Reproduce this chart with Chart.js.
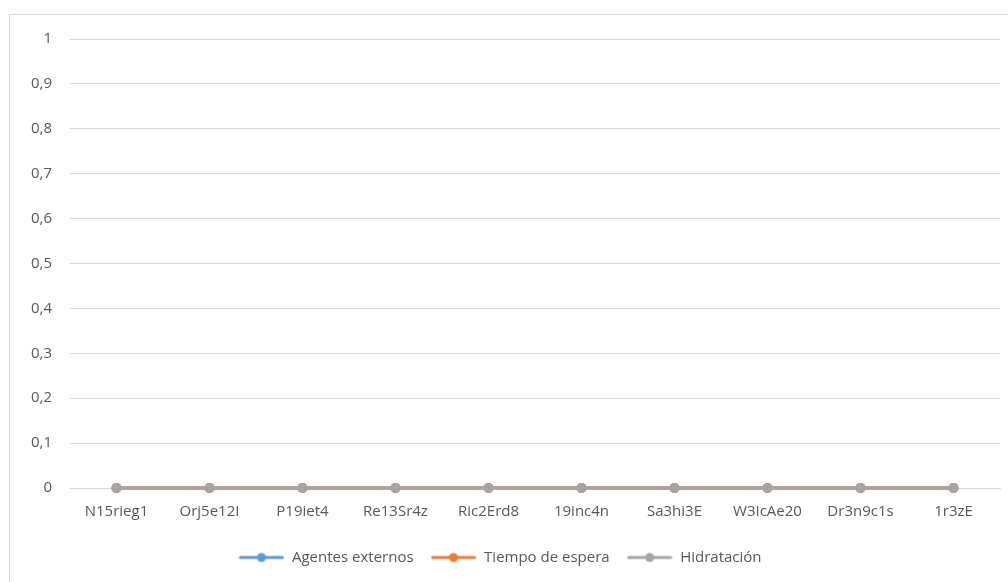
<!DOCTYPE html>
<html>
<head>
<meta charset="utf-8">
<script src="https://cdn.jsdelivr.net/npm/chart.js@4/dist/chart.umd.min.js"></script>
<style>
    html, body { margin: 0; padding: 0; background: #ffffff; overflow: hidden; }
    #frame { position: absolute; left: 9px; top: 14px; width: 1100px; height: 700px; border: 1px solid #d9d9d9; }
    #wrap { position: absolute; left: 0; top: 0; width: 1008px; height: 582px; }
</style>
</head>
<body>
<div id="frame"></div>
<div id="wrap"><canvas id="lineChart" width="1008" height="582"></canvas></div>
<script>
    // categories and series (all values read as 0)
    const categories = ['N15rieg1', 'Orj5e12I', 'P19iet4', 'Re13Sr4z', 'Ric2Erd8', '19inc4n', 'Sa3hi3E', 'W3IcAe20', 'Dr3n9c1s', '1r3zE'];
    const agentesExternos = [0, 0, 0, 0, 0, 0, 0, 0, 0, 0];
    const tiempoDeEspera = [0, 0, 0, 0, 0, 0, 0, 0, 0, 0];
    const hidratacion = [0, 0, 0, 0, 0, 0, 0, 0, 0, 0];
    const yTickLabels = ['0', '0,1', '0,2', '0,3', '0,4', '0,5', '0,6', '0,7', '0,8', '0,9', '1'];

    const fontFamily = '"Open Sans", "Liberation Sans", sans-serif';

    // small line + dot image used as legend symbol
    function legendSymbol(color) {
        const c = document.createElement('canvas');
        c.width = 46;
        c.height = 12;
        const g = c.getContext('2d');
        g.strokeStyle = color;
        g.lineWidth = 3;
        g.lineCap = 'round';
        g.beginPath();
        g.moveTo(2, 6);
        g.lineTo(44, 6);
        g.stroke();
        g.fillStyle = color;
        g.beginPath();
        g.arc(23, 6, 4.5, 0, Math.PI * 2);
        g.fill();
        return c;
    }

    function series(label, data, color, order) {
        return {
            label: label,
            data: data,
            borderColor: color,
            backgroundColor: color,
            borderWidth: 3,
            pointStyle: 'circle',
            pointRadius: 5,
            pointHoverRadius: 5,
            pointBorderWidth: 0,
            pointBackgroundColor: color,
            pointBorderColor: color,
            order: order,
            clip: false,
            tension: 0
        };
    }

    const ctx = document.getElementById('lineChart').getContext('2d');

    new Chart(ctx, {
        type: 'line',
        data: {
            labels: categories,
            datasets: [
                series('Agentes externos', agentesExternos, '#5b9bd5', 3),
                series('Tiempo de espera', tiempoDeEspera, '#ed7d31', 2),
                series('Hidratación', hidratacion, '#a5a5a5', 1)
            ]
        },
        options: {
            responsive: false,
            animation: false,
            layout: {
                padding: { left: 0, right: 8, top: 39, bottom: 7 }
            },
            plugins: {
                tooltip: { enabled: false },
                legend: {
                    position: 'bottom',
                    labels: {
                        usePointStyle: true,
                        pointStyleWidth: 46,
                        boxHeight: 12,
                        padding: 17,
                        color: '#595959',
                        font: { family: fontFamily, size: 15 },
                        generateLabels: function (chart) {
                            const items = Chart.defaults.plugins.legend.labels.generateLabels(chart);
                            items.forEach(item => {
                                item.pointStyle = legendSymbol(chart.data.datasets[item.datasetIndex].borderColor);
                            });
                            return items.sort((a, b) => a.datasetIndex - b.datasetIndex);
                        }
                    }
                }
            },
            scales: {
                x: {
                    offset: true,
                    grid: { display: false, drawTicks: false },
                    border: { display: true, color: '#d9d9d9', width: 1 },
                    ticks: {
                        color: '#595959',
                        padding: 15,
                        maxRotation: 0,
                        autoSkip: false,
                        font: { family: fontFamily, size: 15 }
                    },
                    afterFit: (scale) => { scale.height = 45; }
                },
                y: {
                    min: 0,
                    max: 1,
                    grid: { color: '#d9d9d9', lineWidth: 1, drawTicks: false },
                    border: { display: false },
                    ticks: {
                        stepSize: 0.1,
                        color: '#595959',
                        padding: 18,
                        font: { family: fontFamily, size: 15 },
                        callback: (value, index) => yTickLabels[index]
                    },
                    afterFit: (scale) => { scale.width = 70; }
                }
            }
        }
    });
</script>
</body>
</html>
